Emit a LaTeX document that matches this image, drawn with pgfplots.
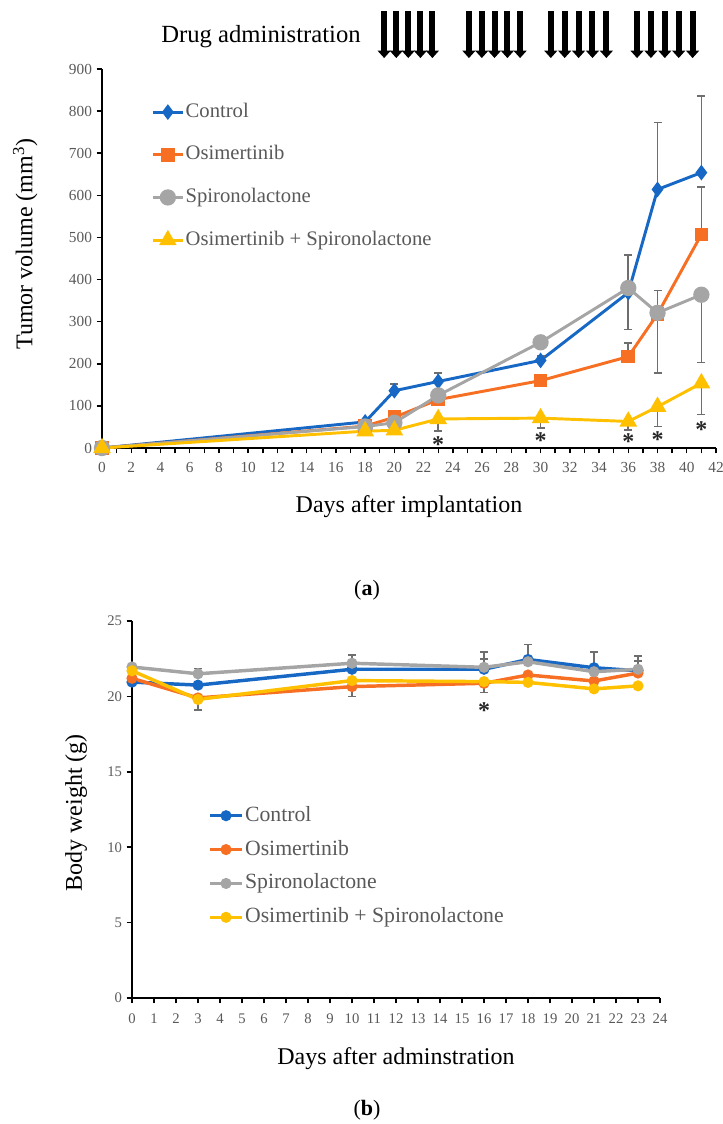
\documentclass[border=0pt]{standalone}
\usepackage{fontspec}
\setmainfont{Liberation Serif}
\usepackage{pgfplots}
\usepackage{pgfplotstable}
\pgfplotsset{compat=1.18}
\usetikzlibrary{arrows.meta}

\definecolor{ctrl}{HTML}{1668C4}
\definecolor{osi}{HTML}{F76F22}
\definecolor{spi}{HTML}{A5A5A5}
\definecolor{comb}{HTML}{FFC000}
\definecolor{errgray}{HTML}{6E6E6E}
\definecolor{tickgray}{HTML}{595959}

% (a) tumour volume, mm^3; e = error bar length
\pgfplotstableread{
x y e
0 0 0
18 62 4
20 136 16
23 158 20
30 208 10
36 369 90
38 614 159
41 654 182
}\ctrlA
\pgfplotstableread{
x y e
0 0 0
18 52 3
20 73 5
23 115 8
30 160 8
36 217 32
38 318 56
41 507 113
}\osiA
\pgfplotstableread{
x y e
0 0 0
18 51 3
20 60 5
23 125 10
30 251 15
36 380 99
38 321 143
41 364 161
}\spiA
\pgfplotstableread{
x y e
0 0 0
18 40 3
20 42 4
23 69 28
30 71 23
36 63 20
38 98 47
41 154 74
}\combA

% (b) body weight, g
\pgfplotstableread{
x y e
0 20.95 0.1
3 20.75 0.1
10 21.8 0.1
16 21.8 0.7
18 22.45 1.0
21 21.9 1.05
23 21.7 0.65
}\ctrlB
\pgfplotstableread{
x y e
0 21.2 0.1
3 19.9 0.1
10 20.65 0.65
16 20.87 0.6
18 21.42 0.1
21 21.02 0.1
23 21.55 0.1
}\osiB
\pgfplotstableread{
x y e
0 21.95 0.1
3 21.5 0.35
10 22.2 0.55
16 21.93 1.03
18 22.3 0.1
21 21.64 0.1
23 21.8 0.88
}\spiB
\pgfplotstableread{
x y e
0 21.7 0.1
3 19.8 0.7
10 21.05 0.1
16 20.98 0.1
18 20.93 0.1
21 20.5 0.1
23 20.7 0.1
}\combB

\pgfplotsset{
  pane/.style={
    scale only axis,
    anchor=south west,
    axis x line*=bottom,
    axis y line*=left,
    axis line style={black, line width=1.3pt, -},
    tick align=outside,
    tick style={black, line width=1.1pt},
    major tick length=4pt,
    minor tick length=4pt,
    ticklabel style={text=tickgray},
    /pgf/number format/assume math mode=true,
    clip=false,
    legend cell align=left,
  },
  errup/.style={error bars/.cd, y dir=plus, y explicit,
    error bar style={errgray, line width=1.2pt},
    error mark options={rotate=90, errgray, mark size=3pt, line width=1.2pt}},
  errdown/.style={error bars/.cd, y dir=minus, y explicit,
    error bar style={errgray, line width=1.2pt},
    error mark options={rotate=90, errgray, mark size=3pt, line width=1.2pt}},
}

\begin{document}
\begin{tikzpicture}
\path[use as bounding box] (0,0) rectangle (541.5pt,-843pt);

\node[font=\fontsize{18.5pt}{20pt}\selectfont] at (195.75pt,-27.75pt) {Drug administration};

% ---------- (a) ----------
\begin{axis}[pane,
  at={(76.5pt,-336pt)},
  width=460.5pt, height=284.25pt,
  xmin=0, xmax=42, ymin=0, ymax=900,
  xtick distance=2, minor x tick num=1,
  ytick distance=100,
  ticklabel style={font=\fontsize{11.5pt}{12pt}\selectfont},
  xticklabel style={yshift=-3.5pt},
  xlabel={Days after implantation},
  ylabel={Tumor volume (mm\textsuperscript{3})},
  label style={font=\fontsize{18pt}{20pt}\selectfont},
  xlabel style={at={(axis description cs:0.5,-0.156)}, anchor=center},
  ylabel style={at={(axis description cs:-0.125,0.538)}, anchor=center},
  legend style={at={(axis description cs:0.08,0.916)}, anchor=north west,
    draw=none, fill=none, inner sep=0pt, row sep=15.5pt,
    font=\fontsize{15.5pt}{17pt}\selectfont, text=tickgray,
    nodes={text height=11pt, text depth=3.5pt, inner sep=1pt}},
  legend image code/.code={
    \draw[#1, mark=none] (0pt,0pt) -- (22.5pt,0pt);
    \draw[#1, only marks] plot coordinates {(11.25pt,0pt)};},
]
\addplot[ctrl, line width=2.2pt, mark=diamond*, mark size=4.1pt,
  mark options={solid, fill=ctrl, draw=ctrl}, errup]
  table[x=x, y=y, y error=e] {\ctrlA};
\addlegendentry{Control}
\addplot[osi, line width=2.2pt, mark=square*, mark size=4pt,
  mark options={solid, fill=osi, draw=osi}, errup]
  table[x=x, y=y, y error=e] {\osiA};
\addlegendentry{Osimertinib}
\addplot[spi, line width=2.2pt, mark=*, mark size=5pt,
  mark options={solid, fill=spi, draw=spi}, errdown]
  table[x=x, y=y, y error=e] {\spiA};
\addlegendentry{Spironolactone}
\addplot[comb, line width=2.2pt, mark=triangle*, mark size=5.5pt,
  mark options={solid, fill=comb, draw=comb}, errdown]
  table[x=x, y=y, y error=e] {\combA};
\addlegendentry{Osimertinib + Spironolactone}

% significance marks
\addplot[only marks, mark=text, text mark={*}, text mark as node=true,
  text mark style={font=\bfseries\fontsize{18pt}{18pt}\selectfont, text=black!85, yshift=-2.5pt}]
  coordinates {(23,17) (30,26) (36,24) (38,27) (41,51)};

% dosing arrows
\addplot[black, line width=4.5pt, -{Triangle[width=9.5pt,length=5.5pt]},
  quiver={u=0, v=-112}, mark=none]
  coordinates {
    (19.3,1038) (20.13,1038) (20.95,1038) (21.78,1038) (22.6,1038)
    (25.1,1038) (25.98,1038) (26.85,1038) (27.73,1038) (28.6,1038)
    (30.7,1038) (31.65,1038) (32.6,1038) (33.55,1038) (34.5,1038)
    (36.6,1038) (37.55,1038) (38.5,1038) (39.45,1038) (40.4,1038)};
\end{axis}

\node[font=\fontsize{16.5pt}{18pt}\selectfont] at (275.25pt,-442.5pt) {(\textbf{a})};

% ---------- (b) ----------
\begin{axis}[pane,
  at={(99pt,-748.5pt)},
  width=396pt, height=282.75pt,
  xmin=0, xmax=24, ymin=0, ymax=25,
  xtick={0,1,...,24},
  ytick distance=5,
  ticklabel style={font=\fontsize{11pt}{12pt}\selectfont},
  xticklabel style={yshift=-4.5pt},
  xlabel={Days after adminstration},
  ylabel={Body weight (g)},
  label style={font=\fontsize{18pt}{20pt}\selectfont},
  xlabel style={at={(axis description cs:0.5,-0.162)}, anchor=center},
  ylabel style={at={(axis description cs:-0.106,0.491)}, anchor=center},
  legend style={at={(axis description cs:0.144,0.515)}, anchor=north west,
    draw=none, fill=none, inner sep=0pt, row sep=8pt,
    font=\fontsize{16.3pt}{17pt}\selectfont, text=tickgray,
    nodes={text height=11.8pt, text depth=3.6pt, inner sep=1pt}},
  legend image code/.code={
    \draw[#1, mark=none] (0pt,0pt) -- (24pt,0pt);
    \draw[#1, only marks] plot coordinates {(12pt,0pt)};},
]
\addplot[ctrl, line width=2.6pt, mark=*, mark size=2.8pt,
  mark options={solid, fill=ctrl, draw=ctrl}, errup]
  table[x=x, y=y, y error=e] {\ctrlB};
\addlegendentry{Control}
\addplot[osi, line width=2.6pt, mark=*, mark size=2.8pt,
  mark options={solid, fill=osi, draw=osi}, errdown]
  table[x=x, y=y, y error=e] {\osiB};
\addlegendentry{Osimertinib}
\addplot[spi, line width=2.6pt, mark=*, mark size=2.8pt,
  mark options={solid, fill=spi, draw=spi}, errup]
  table[x=x, y=y, y error=e] {\spiB};
\addlegendentry{Spironolactone}
\addplot[comb, line width=2.6pt, mark=*, mark size=2.8pt,
  mark options={solid, fill=comb, draw=comb}, errdown]
  table[x=x, y=y, y error=e] {\combB};
\addlegendentry{Osimertinib + Spironolactone}

\addplot[only marks, mark=text, text mark={*}, text mark as node=true,
  text mark style={font=\bfseries\fontsize{18pt}{18pt}\selectfont, text=black!85, yshift=-2.5pt}]
  coordinates {(16,19.3)};
\end{axis}

\node[font=\fontsize{16.5pt}{18pt}\selectfont] at (275.25pt,-832.5pt) {(\textbf{b})};
\end{tikzpicture}
\end{document}
